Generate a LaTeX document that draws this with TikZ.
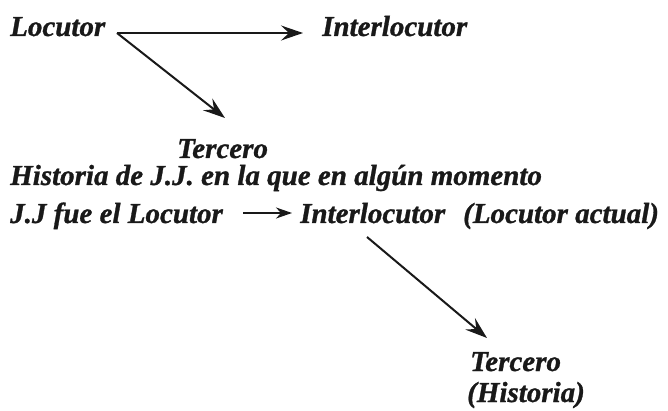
\documentclass[tikz,border=0pt]{standalone}
\usepackage{fontspec}
\newfontfamily\bif{Liberation Serif Bold Italic}[FakeBold=1]
\usetikzlibrary{arrows.meta}
\tikzset{
  lbl/.style={anchor=base west, inner sep=0pt, font=\fontsize{29}{32}\bif, text=black!90},
  bigarr/.style={line width=2pt, draw=black!90, -{Stealth[length=22pt,width=15pt,inset=8pt]}},
  smallarr/.style={line width=2pt, draw=black!90, -{Stealth[length=16pt,width=11pt,inset=5pt]}}
}
\begin{document}
\begin{tikzpicture}[x=1pt,y=-1pt]
\useasboundingbox (0,0) rectangle (668,411);
\node[lbl] (loc) at (10,36) {Locutor};
\node[lbl] (int) at (322,36) {Interlocutor};
\node[lbl, text depth=0pt] (ter) at (177,158) {Tercero};
\node[lbl, text height=24pt] (hist) at (10,185) {Historia de J.J. en la que en algún momento};
\node[lbl] (jj) at (10,223) {J.J fue el Locutor};
\node[lbl] (int2) at (300,223) {Interlocutor};
\node[lbl] (act) at (463,223) {(Locutor actual)};
\node[lbl, text depth=0pt] (ter2) at (470,371) {Tercero};
\node[lbl, text height=24pt] (his2) at (467,402) {(Historia)};
\coordinate (s1) at (117,33);
\coordinate (e1) at (303,33);
\coordinate (e2) at (225,118);
\coordinate (s3) at (243,213);
\coordinate (e3) at (292,213);
\coordinate (s4) at (367,237);
\coordinate (e4) at (487,338);
\draw[bigarr] (s1) -- (e1);
\draw[bigarr] (s1) -- (e2);
\draw[smallarr] (s3) -- (e3);
\draw[bigarr] (s4) -- (e4);
\end{tikzpicture}
\end{document}
